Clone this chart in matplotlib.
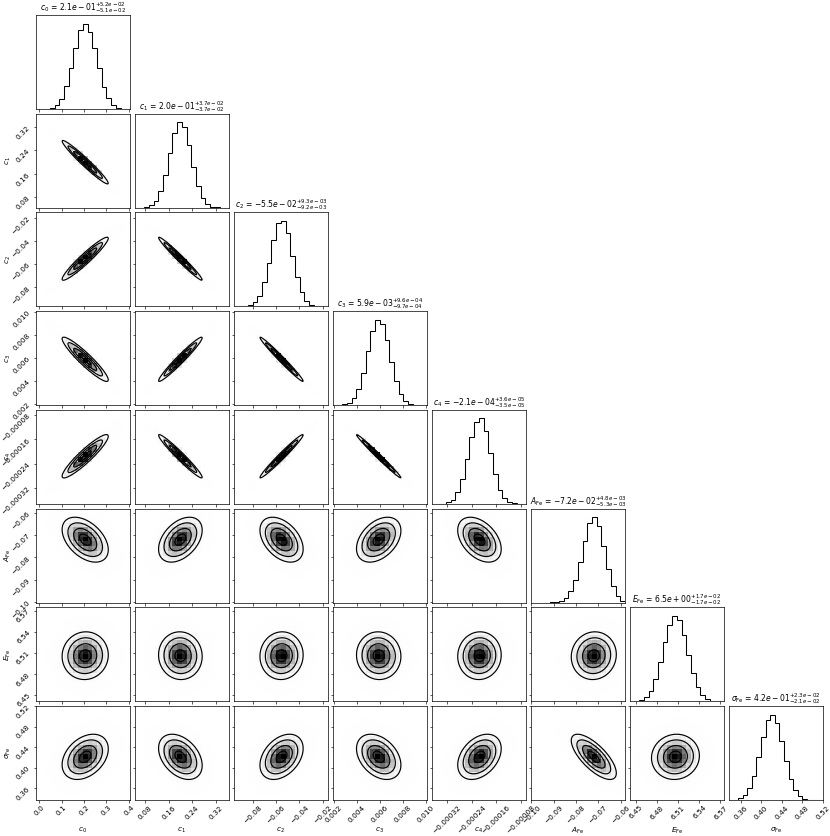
"""Corner plot of the continuum + Fe line posterior."""

import matplotlib
matplotlib.use("Agg")
import matplotlib.pyplot as plt
import numpy as np
from matplotlib.colors import LinearSegmentedColormap

labels = [r"$c_0$", r"$c_1$", r"$c_2$", r"$c_3$", r"$c_4$",
          r"$A_{\rm Fe}$", r"$E_{\rm Fe}$", r"$\sigma_{\rm Fe}$"]

# title numbers: median, lower and upper error
medians = [2.1e-01, 2.0e-01, -5.5e-02, 5.9e-03, -2.1e-04, -7.2e-02, 6.5e+00, 4.2e-01]
err_lo = [5.1e-02, 3.7e-02, 9.2e-03, 9.7e-04, 3.5e-05, 5.3e-03, 1.7e-02, 2.1e-02]
err_hi = [5.2e-02, 3.7e-02, 9.3e-03, 9.6e-04, 3.6e-05, 4.8e-03, 1.7e-02, 2.3e-02]

# centre of the 2d density in each panel
centres = [0.205, 0.200, -0.0553, 0.0059, -0.000215, -0.0720, 6.506, 0.421]

# axis ranges and tick values
ranges = [(-0.016, 0.405), (0.045, 0.365), (-0.0963, -0.0155), (0.0019, 0.0101),
          (-0.000371, -0.000063), (-0.1003, -0.058), (6.441, 6.575), (0.337, 0.516)]
ticks = [[0.0, 0.1, 0.2, 0.3, 0.4],
         [0.08, 0.16, 0.24, 0.32],
         [-0.08, -0.06, -0.04, -0.02],
         [0.002, 0.004, 0.006, 0.008, 0.010],
         [-0.00032, -0.00024, -0.00016, -0.00008],
         [-0.10, -0.09, -0.08, -0.07, -0.06],
         [6.45, 6.48, 6.51, 6.54, 6.57],
         [0.36, 0.40, 0.44, 0.48, 0.52]]

# pairwise correlations (estimated from the ellipse shapes)
rho = np.array([
    [1.00, -0.97, 0.95, -0.93, 0.92, -0.45, 0.03, 0.35],
    [-0.97, 1.00, -0.98, 0.97, -0.97, 0.42, -0.03, -0.38],
    [0.95, -0.98, 1.00, -0.985, 0.98, -0.42, 0.03, 0.37],
    [-0.93, 0.97, -0.985, 1.00, -0.99, 0.40, -0.03, -0.36],
    [0.92, -0.97, 0.98, -0.99, 1.00, -0.42, 0.03, 0.36],
    [-0.45, 0.42, -0.42, 0.40, -0.42, 1.00, 0.05, -0.72],
    [0.03, -0.03, 0.03, -0.03, 0.03, 0.05, 1.00, 0.05],
    [0.35, -0.38, 0.37, -0.36, 0.36, -0.72, 0.05, 1.00],
])

# 1d histogram counts, 20 bins across each range
hist_c0 = [0, 2, 10, 35, 98, 240, 530, 950, 1420, 1850, 1990, 1800, 1430, 960, 520, 250, 95, 30, 8, 2]
hist_c1 = [1, 4, 16, 55, 160, 385, 770, 1275, 1750, 1995, 1880, 1470, 955, 515, 228, 84, 26, 7, 1, 0]
hist_c2 = [0, 2, 7, 28, 92, 250, 560, 1010, 1540, 1930, 1975, 1690, 1170, 680, 325, 128, 42, 11, 2, 0]
hist_c3 = [1, 4, 16, 56, 160, 380, 760, 1250, 1730, 1990, 1900, 1515, 1000, 555, 255, 98, 32, 8, 2, 0]
hist_c4 = [0, 2, 8, 32, 100, 265, 580, 1040, 1555, 1900, 1980, 1680, 1175, 690, 330, 130, 44, 12, 3, 0]
hist_afe = [0, 0, 0, 1, 3, 12, 38, 105, 260, 530, 950, 1440, 1850, 1990, 1790, 1310, 790, 380, 150, 45]
hist_efe = [3, 11, 36, 102, 246, 510, 906, 1374, 1790, 1994, 1904, 1556, 1090, 654, 334, 148, 56, 18, 5, 1]
hist_sfe = [3, 11, 39, 112, 276, 570, 998, 1484, 1870, 1998, 1810, 1390, 904, 500, 234, 92, 30, 8, 2, 0]
hists = [hist_c0, hist_c1, hist_c2, hist_c3, hist_c4, hist_afe, hist_efe, hist_sfe]

K = len(labels)
NB = 20
SUB = 8
sig = [(lo + hi) / 2 for lo, hi in zip(err_lo, err_hi)]
density_cmap = LinearSegmentedColormap.from_list("density_cmap", ["k", (1, 1, 1, 0)])
FS = 5.3

fig, axes = plt.subplots(K, K, figsize=(8.3, 8.36))
fig.subplots_adjust(left=35.7 / 830, right=823 / 830, bottom=36 / 836, top=821 / 836,
                    wspace=0.05, hspace=0.05)


def style(ax):
    ax.tick_params(labelsize=FS, length=1.8, width=0.45, pad=1.4)
    for s in ax.spines.values():
        s.set_linewidth(0.5)


def draw_pair(ax, i, j):
    x0, x1 = ranges[j]
    y0, y1 = ranges[i]
    n = NB * SUB
    xf = x0 + (np.arange(n) + 0.5) * (x1 - x0) / n
    yf = y0 + (np.arange(n) + 0.5) * (y1 - y0) / n
    X, Y = np.meshgrid(xf, yf)
    u = (X - centres[j]) / sig[j]
    v = (Y - centres[i]) / sig[i]
    r = rho[i, j]
    D = (u * u - 2 * r * u * v + v * v) / (1 - r * r)
    dens = np.exp(-0.5 * D)
    H = dens.reshape(NB, SUB, NB, SUB).mean(axis=(1, 3))
    xe = np.linspace(x0, x1, NB + 1)
    ye = np.linspace(y0, y1, NB + 1)
    ax.contourf(xf, yf, D, [0, 4], colors="white", antialiased=False)
    ax.pcolormesh(xe, ye, H.max() - H, cmap=density_cmap, shading="flat")
    ax.contour(xf, yf, D, [0.25, 1.0, 2.25, 4.0], colors="k", linewidths=0.85)
    ax.set_xlim(x0, x1)
    ax.set_ylim(y0, y1)


for i in range(K):
    for j in range(K):
        ax = axes[i, j]
        if j > i:
            ax.set_frame_on(False)
            ax.set_xticks([])
            ax.set_yticks([])
            continue
        style(ax)
        if i == j:
            edges = np.linspace(ranges[i][0], ranges[i][1], NB + 1)
            ax.stairs(hists[i], edges, color="k", lw=0.75)
            ax.set_xlim(*ranges[i])
            ax.set_ylim(0, 1.1 * max(hists[i]))
            ax.set_yticks([])
            title = "{0} = ${1}_{{-{2}}}^{{+{3}}}$".format(
                labels[i], "{:.1e}".format(medians[i]),
                "{:.1e}".format(err_lo[i]), "{:.1e}".format(err_hi[i]))
            ax.set_title(title, fontsize=5.5, pad=0.3)
        else:
            draw_pair(ax, i, j)
            ax.set_yticks(ticks[i])
            if j == 0:
                ax.yaxis.get_major_formatter().set_useOffset(False)
                ax.set_ylabel(labels[i], fontsize=FS)
                ax.yaxis.set_label_coords(-0.24, 0.5)
                plt.setp(ax.get_yticklabels(), rotation=45)
            else:
                ax.set_yticklabels([])
        ax.set_xticks(ticks[j])
        if i == K - 1:
            ax.xaxis.get_major_formatter().set_useOffset(False)
            ax.set_xlabel(labels[j], fontsize=FS)
            ax.xaxis.set_label_coords(0.5, -0.27)
            plt.setp(ax.get_xticklabels(), rotation=45)
        else:
            ax.set_xticklabels([])

fig.savefig("out.png", dpi=100)
plt.close(fig)
